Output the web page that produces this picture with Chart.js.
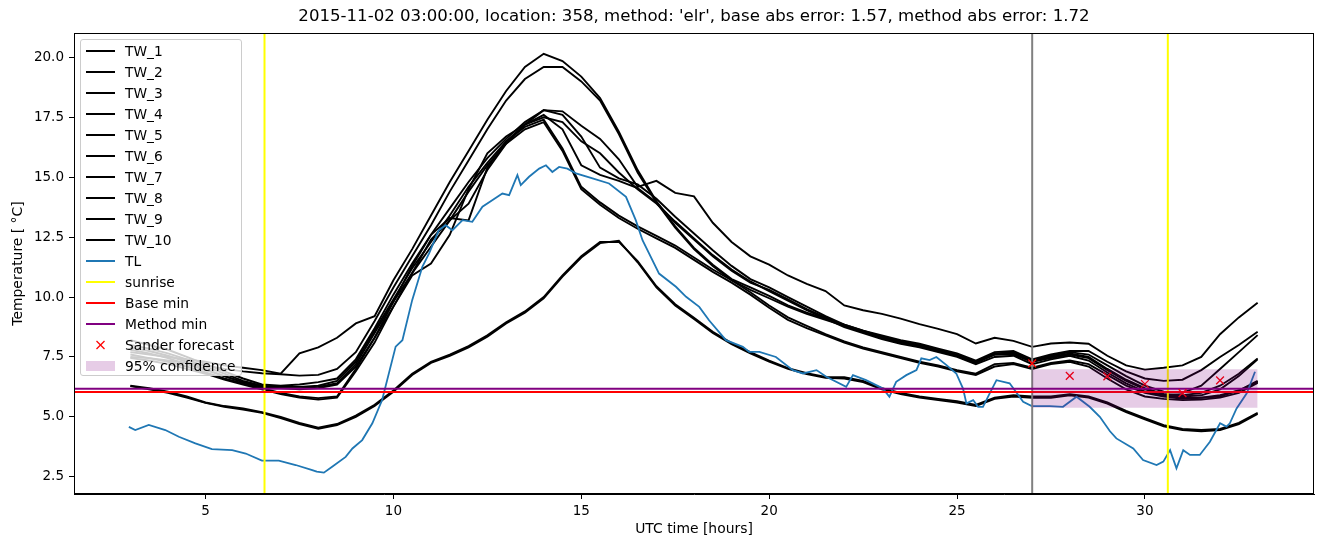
<!DOCTYPE html>
<html>
<head>
<meta charset="utf-8">
<script src="https://cdn.jsdelivr.net/npm/chart.js@4.4.0/dist/chart.umd.min.js"></script>
<style>
    body { margin: 0; background: #fff; }
    #wrap { position: relative; width: 1324px; height: 547px; }
    #legend {
        position: absolute; left: 80px; top: 39px; width: 162px; height: 337px;
        box-sizing: border-box; background: rgba(255, 255, 255, 0.8);
        border: 1px solid #cccccc; border-radius: 3px;
        font-family: 'DejaVu Sans', sans-serif; font-size: 13.8px; color: #000;
    }
    .row { height: 21px; display: flex; align-items: center; white-space: nowrap; }
    .row svg { margin-left: 5px; margin-right: 10px; flex: none; }
</style>
</head>
<body>
<div id="wrap">
    <canvas id="tempChart" width="1324" height="547"></canvas>
    <div id="legend"></div>
</div>
<script>
// values
const titleText = "2015-11-02 03:00:00, location: 358, method: 'elr', base abs error: 1.57, method abs error: 1.72";

const twHours = [3, 3.5, 4, 4.5, 5, 5.5, 6, 6.5, 7, 7.5,
    8, 8.5, 9, 9.5, 10, 10.5, 11, 11.5, 12, 12.5,
    13, 13.5, 14, 14.5, 15, 15.5, 16, 16.5, 17, 17.5,
    18, 18.5, 19, 19.5, 20, 20.5, 21, 21.5, 22, 22.5,
    23, 23.5, 24, 24.5, 25, 25.5, 26, 26.5, 27, 27.5,
    28, 28.5, 29, 29.5, 30, 30.5, 31, 31.5, 32, 32.5, 33];

const tw1 = [7.7, 7.6, 7.5, 7.4, 7.3, 7.15, 7.05, 6.95, 6.8, 7.65,
    7.9, 8.3, 8.9, 9.2, 10.7, 12.0, 13.4, 14.8, 16.1, 17.4,
    18.6, 19.6, 20.15, 19.85, 19.2, 18.3, 16.9, 15.3, 14.0, 12.95,
    12.05, 11.35, 10.75, 10.4, 10.05, 9.65, 9.35, 9.1, 8.85, 8.6,
    8.4, 8.2, 8.05, 7.85, 7.65, 7.35, 7.7, 7.75, 7.4, 7.6,
    7.75, 7.75, 7.3, 6.9, 6.6, 6.5, 6.55, 6.95, 7.5, 8.0, 8.55];
const tw2 = [7.5, 7.45, 7.35, 7.25, 7.15, 7.0, 6.9, 6.82, 6.78, 6.72,
    6.75, 7.0, 7.7, 9.0, 10.4, 11.7, 13.0, 14.4, 15.7, 17.0,
    18.2, 19.1, 19.6, 19.6, 19.0, 18.2, 16.8, 15.2, 13.95, 12.9,
    12.0, 11.3, 10.7, 10.3, 9.95, 9.6, 9.3, 9.05, 8.8, 8.55,
    8.35, 8.15, 8.0, 7.8, 7.6, 7.3, 7.65, 7.7, 7.35, 7.55,
    7.7, 7.6, 7.15, 6.7, 6.3, 6.05, 6.0, 6.3, 7.0, 7.7, 8.41];
const tw3 = [8.2, 8.0, 7.8, 7.5, 7.2, 6.9, 6.6, 6.35, 6.3, 6.35,
    6.45, 6.6, 7.4, 8.7, 10.1, 11.4, 12.6, 13.7, 14.8, 15.8,
    16.6, 17.3, 17.8, 17.75, 17.15, 16.6, 15.75, 14.6, 14.85, 14.35,
    14.2, 13.1, 12.3, 11.7, 11.35, 10.9, 10.55, 10.25, 9.65, 9.45,
    9.3, 9.1, 8.87, 8.67, 8.45, 8.06, 8.3, 8.17, 7.92, 8.06,
    8.1, 8.05, 7.55, 7.15, 6.97, 7.05, 7.15, 7.5, 8.45, 9.15, 9.76];
const tw4 = [8.0, 7.85, 7.65, 7.4, 7.1, 6.8, 6.5, 6.3, 6.25, 6.25,
    6.3, 6.5, 7.3, 8.6, 9.9, 11.2, 12.3, 13.4, 14.6, 15.6,
    16.5, 17.2, 17.6, 17.0, 15.5, 15.1, 14.85, 14.55, 13.95, 13.1,
    12.4, 11.7, 11.1, 10.6, 10.3, 9.9, 9.5, 9.15, 8.8, 8.55,
    8.3, 8.1, 7.95, 7.75, 7.55, 7.3, 7.6, 7.65, 7.3, 7.5,
    7.65, 7.5, 7.0, 6.55, 6.2, 5.95, 5.9, 6.0, 6.3, 6.8, 7.44];
const tw5 = [7.9, 7.75, 7.55, 7.3, 7.0, 6.7, 6.45, 6.25, 6.2, 6.2,
    6.25, 6.4, 7.2, 8.5, 9.8, 11.0, 12.1, 13.2, 14.4, 15.5,
    16.4, 17.2, 17.8, 17.6, 16.7, 15.4, 14.95, 14.7, 14.1, 13.35,
    12.65, 11.95, 11.3, 10.75, 10.4, 10.0, 9.6, 9.2, 8.85, 8.6,
    8.35, 8.15, 7.95, 7.75, 7.55, 7.25, 7.6, 7.6, 7.3, 7.45,
    7.6, 7.45, 6.95, 6.5, 6.15, 5.95, 5.85, 5.9, 6.15, 6.7, 7.4];
const tw6 = [7.8, 7.65, 7.45, 7.2, 6.95, 6.7, 6.45, 6.25, 6.2, 6.15,
    6.2, 6.35, 7.1, 8.3, 9.6, 10.9, 11.4, 12.6, 14.5, 16.0,
    16.7, 17.2, 17.5, 17.3, 16.5, 16.0, 15.2, 14.5, 13.9, 13.15,
    12.45, 11.75, 11.15, 10.65, 10.25, 9.85, 9.45, 9.1, 8.75, 8.5,
    8.25, 8.05, 7.9, 7.7, 7.5, 7.2, 7.5, 7.55, 7.2, 7.4,
    7.55, 7.35, 6.85, 6.4, 6.05, 5.9, 5.8, 5.8, 5.9, 6.1, 6.46];
const tw7 = [7.6, 7.45, 7.3, 7.1, 6.85, 6.6, 6.4, 6.2, 6.0, 5.85,
    5.78, 5.85, 7.0, 8.3, 9.8, 11.3, 12.6, 13.3, 13.2, 15.4,
    16.5, 17.1, 17.4, 16.2, 14.6, 13.95, 13.4, 12.95, 12.55, 12.15,
    11.65, 11.15, 10.7, 10.2, 9.65, 9.15, 8.8, 8.45, 8.15, 7.9,
    7.7, 7.5, 7.3, 7.15, 6.95, 6.8, 7.2, 7.25, 7.05, 7.25,
    7.35, 7.2, 6.75, 6.3, 6.0, 5.85, 5.75, 5.8, 5.85, 6.1, 6.5];
const tw8 = [7.45, 7.35, 7.2, 7.0, 6.8, 6.55, 6.35, 6.15, 5.95, 5.8,
    5.72, 5.8, 6.9, 8.1, 9.6, 11.0, 12.4, 13.2, 13.9, 15.3,
    16.4, 17.0, 17.3, 16.1, 14.5, 13.85, 13.3, 12.85, 12.45, 12.05,
    11.55, 11.05, 10.6, 10.1, 9.55, 9.05, 8.7, 8.4, 8.1, 7.85,
    7.65, 7.45, 7.25, 7.1, 6.9, 6.75, 7.1, 7.2, 7.0, 7.2,
    7.3, 7.1, 6.6, 6.15, 5.85, 5.75, 5.7, 5.72, 5.8, 6.0, 6.42];
const tw9 = [6.3, 6.2, 6.05, 5.85, 5.6, 5.45, 5.35, 5.2, 5.0, 4.75,
    4.55, 4.7, 5.05, 5.5, 6.1, 6.8, 7.3, 7.6, 7.95, 8.4,
    8.95, 9.4, 10.0, 10.9, 11.7, 12.3, 12.3, 11.5, 10.45, 9.7,
    9.13, 8.55, 8.08, 7.7, 7.35, 7.03, 6.82, 6.67, 6.65, 6.5,
    6.2, 6.0, 5.85, 5.75, 5.65, 5.5, 5.8, 5.9, 5.85, 5.85,
    5.95, 5.85, 5.6, 5.25, 4.95, 4.65, 4.5, 4.45, 4.5, 4.75, 5.17];
const tw10 = [6.28, 6.15, 6.0, 5.8, 5.58, 5.42, 5.3, 5.17, 4.95, 4.7,
    4.5, 4.66, 5.0, 5.45, 6.05, 6.75, 7.25, 7.55, 7.9, 8.35,
    8.9, 9.35, 9.95, 10.85, 11.65, 12.25, 12.35, 11.45, 10.4, 9.65,
    9.08, 8.5, 8.03, 7.65, 7.3, 7.0, 6.78, 6.63, 6.6, 6.45,
    6.15, 5.95, 5.8, 5.7, 5.6, 5.45, 5.75, 5.85, 5.8, 5.8,
    5.9, 5.8, 5.55, 5.2, 4.9, 4.6, 4.45, 4.4, 4.45, 4.7, 5.12];

const twNames = ['TW_1', 'TW_2', 'TW_3', 'TW_4', 'TW_5', 'TW_6', 'TW_7', 'TW_8', 'TW_9', 'TW_10'];
const twSeries = [tw1, tw2, tw3, tw4, tw5, tw6, tw7, tw8, tw9, tw10];

const tlHours = [2.96, 3.13, 3.49, 3.93, 4.29, 4.73, 5.17, 5.71, 6.07, 6.5,
    6.95, 7.4, 7.84, 7.96, 8.15, 8.37, 8.73, 8.91, 9.17, 9.44,
    9.7, 10.06, 10.24, 10.5, 10.77, 10.95, 11.21, 11.39, 11.57, 11.84,
    12.1, 12.37, 12.63, 12.9, 13.08, 13.3, 13.39, 13.61, 13.88, 14.06,
    14.23, 14.41, 14.63, 14.86, 15.3, 15.74, 16.19, 16.45, 16.63, 17.07,
    17.52, 17.79, 18.14, 18.4, 18.85, 19.3, 19.47, 19.74, 20.18, 20.63,
    20.9, 21.26, 21.52, 22.05, 22.23, 22.58, 23.03, 23.2, 23.38, 23.65,
    23.92, 24.05, 24.27, 24.45, 24.72, 24.98, 25.16, 25.25, 25.43, 25.56,
    25.69, 25.87, 26.05, 26.4, 26.76, 26.99, 27.47, 27.82, 28.18, 28.53,
    28.8, 29.07, 29.24, 29.69, 29.95, 30.31, 30.49, 30.67, 30.84, 31.02,
    31.2, 31.46, 31.73, 32.0, 32.17, 32.26, 32.44, 32.71, 32.93];
const tlTemp = [4.58, 4.45, 4.66, 4.45, 4.17, 3.89, 3.65, 3.61, 3.47, 3.17,
    3.17, 2.99, 2.78, 2.71, 2.67, 2.92, 3.33, 3.68, 4.03, 4.73,
    5.7, 7.93, 8.2, 9.87, 11.26, 11.82, 12.79, 13.0, 12.79, 13.21,
    13.14, 13.77, 14.04, 14.32, 14.25, 15.09, 14.67, 15.02, 15.36, 15.5,
    15.22, 15.43, 15.36, 15.16, 14.95, 14.74, 14.18, 13.21, 12.37, 10.98,
    10.43, 10.01, 9.59, 9.03, 8.2, 7.92, 7.71, 7.71, 7.5, 6.95,
    6.81, 6.95, 6.67, 6.25, 6.74, 6.53, 6.18, 5.84, 6.46, 6.74,
    6.95, 7.44, 7.37, 7.5, 7.16, 6.81, 6.18, 5.56, 5.7, 5.42,
    5.42, 5.98, 6.53, 6.4, 5.63, 5.45, 5.45, 5.42, 5.84, 5.42,
    5.0, 4.4, 4.1, 3.68, 3.2, 2.99, 3.13, 3.61, 2.85, 3.61,
    3.41, 3.41, 3.96, 4.73, 4.59, 4.73, 5.35, 5.98, 6.88];

const sunriseHours = [6.57, 30.61];
const forecastHour = 27;
const baseMin = 6.04;
const methodMin = 6.17;

const sanderHours = [27, 28, 29, 30, 31, 32];
const sanderTemp = [7.23, 6.71, 6.69, 6.37, 5.99, 6.52];

const confHours = [27, 33];
const confLow = [5.38, 5.38];
const confHigh = [6.99, 6.99];

const xTicks = [5, 10, 15, 20, 25, 30];
const yTicks = [2.5, 5, 7.5, 10, 12.5, 15, 17.5, 20];

const toPoints = (xs, ys) => xs.map((x, i) => ({ x: x, y: ys[i] }));

Chart.defaults.font.family = "'DejaVu Sans', sans-serif";
Chart.defaults.color = '#000';

// build datasets in plotting order (later ones on top, like matplotlib)
const datasets = [];
twSeries.forEach((vals, i) => {
    datasets.push({
        label: twNames[i], data: toPoints(twHours, vals),
        borderColor: '#000', borderWidth: 1.9, pointRadius: 0, tension: 0
    });
});
const tlIndex = datasets.length;
datasets.push({
    label: 'TL', data: toPoints(tlHours, tlTemp),
    borderColor: '#1f77b4', borderWidth: 1.8, pointRadius: 0, tension: 0
});
datasets.push({
    label: 'Sander forecast', data: toPoints(sanderHours, sanderTemp),
    showLine: false, pointStyle: 'crossRot', pointRadius: 5.5,
    pointBorderColor: 'red', pointBorderWidth: 1.3, borderColor: 'red'
});
datasets.push({
    label: 'conf low', data: toPoints(confHours, confLow),
    borderWidth: 0, pointRadius: 0, borderColor: 'rgba(0,0,0,0)'
});
datasets.push({
    label: '95% confidence', data: toPoints(confHours, confHigh),
    borderWidth: 0, pointRadius: 0, borderColor: 'rgba(0,0,0,0)',
    fill: '-1', backgroundColor: 'rgba(128, 0, 128, 0.2)'
});
datasets.forEach((d, i) => { d.order = datasets.length - i; });

// axvline / axhline, drawn right after the TL line
const refLines = {
    id: 'refLines',
    afterDatasetDraw(chart, args) {
        if (args.index !== tlIndex) return;
        const { ctx, chartArea: a, scales: { x, y } } = chart;
        ctx.save();
        ctx.lineWidth = 2;
        const vline = (h, color) => {
            const px = x.getPixelForValue(h);
            ctx.strokeStyle = color;
            ctx.beginPath(); ctx.moveTo(px, a.top); ctx.lineTo(px, a.bottom); ctx.stroke();
        };
        const hline = (v, color) => {
            const py = y.getPixelForValue(v);
            ctx.strokeStyle = color;
            ctx.beginPath(); ctx.moveTo(a.left, py); ctx.lineTo(a.right, py); ctx.stroke();
        };
        vline(forecastHour, 'gray');
        sunriseHours.forEach(h => vline(h, 'yellow'));
        hline(baseMin, 'red');
        hline(methodMin, 'purple');
        ctx.restore();
    }
};

const frameAndTitle = {
    id: 'frameAndTitle',
    afterDraw(chart) {
        const { ctx, chartArea: a } = chart;
        ctx.save();
        ctx.strokeStyle = '#000';
        ctx.lineWidth = 1;
        ctx.strokeRect(a.left + 0.5, a.top + 0.5, a.width - 1, a.height - 1);
        ctx.fillStyle = '#000';
        ctx.font = "16.6px 'DejaVu Sans', sans-serif";
        ctx.textAlign = 'center';
        ctx.textBaseline = 'middle';
        ctx.fillText(titleText, (a.left + a.right) / 2, 17);
        ctx.restore();
    }
};

new Chart(document.getElementById('tempChart').getContext('2d'), {
    type: 'line',
    data: { datasets: datasets },
    options: {
        responsive: false,
        animation: false,
        devicePixelRatio: 1,
        layout: { padding: { left: 0, right: 10, top: 33, bottom: 0 } },
        plugins: { legend: { display: false }, tooltip: { enabled: false }, title: { display: false } },
        scales: {
            x: {
                type: 'linear', min: 1.5, max: 34.5,
                afterBuildTicks: s => { s.ticks = xTicks.map(v => ({ value: v })); },
                afterFit: s => { s.height = 53; },
                ticks: { font: { size: 13.5 }, color: '#000', padding: 4, maxRotation: 0 },
                grid: { drawOnChartArea: false, tickLength: 5, color: '#000' },
                border: { color: '#000' },
                title: { display: true, text: 'UTC time [hours]', font: { size: 13.9 }, padding: { top: 2, bottom: 9 } }
            },
            y: {
                type: 'linear', min: 1.78, max: 21.02,
                afterBuildTicks: s => { s.ticks = yTicks.map(v => ({ value: v })); },
                afterFit: s => { s.width = 74; },
                ticks: { font: { size: 13.5 }, color: '#000', padding: 5, callback: v => v.toFixed(1) },
                grid: { drawOnChartArea: false, tickLength: 5, color: '#000' },
                border: { color: '#000' },
                title: { display: true, text: 'Temperature [ \u00B0C]', font: { size: 13.9 }, padding: { top: 10, bottom: 2 } }
            }
        }
    },
    plugins: [refLines, frameAndTitle]
});

// legend, matplotlib style, upper left inside the axes
const legendItems = twNames.map(n => ({ label: n, kind: 'line', color: '#000' })).concat([
    { label: 'TL', kind: 'line', color: '#1f77b4' },
    { label: 'sunrise', kind: 'line', color: 'yellow' },
    { label: 'Base min', kind: 'line', color: 'red' },
    { label: 'Method min', kind: 'line', color: 'purple' },
    { label: 'Sander forecast', kind: 'marker', color: 'red' },
    { label: '95% confidence', kind: 'patch', color: 'rgba(128, 0, 128, 0.2)' }
]);

const legendEl = document.getElementById('legend');
legendItems.forEach(item => {
    let mark;
    if (item.kind === 'line') {
        mark = `<line x1="0" y1="6" x2="29" y2="6" stroke="${item.color}" stroke-width="2"/>`;
    } else if (item.kind === 'marker') {
        mark = `<line x1="10.5" y1="2" x2="18.5" y2="10" stroke="${item.color}" stroke-width="1.3"/>` +
               `<line x1="10.5" y1="10" x2="18.5" y2="2" stroke="${item.color}" stroke-width="1.3"/>`;
    } else {
        mark = `<rect x="0" y="1" width="29" height="10" fill="${item.color}"/>`;
    }
    const row = document.createElement('div');
    row.className = 'row';
    row.innerHTML = `<svg width="29" height="12">${mark}</svg><span>${item.label}</span>`;
    legendEl.appendChild(row);
});
</script>
</body>
</html>
